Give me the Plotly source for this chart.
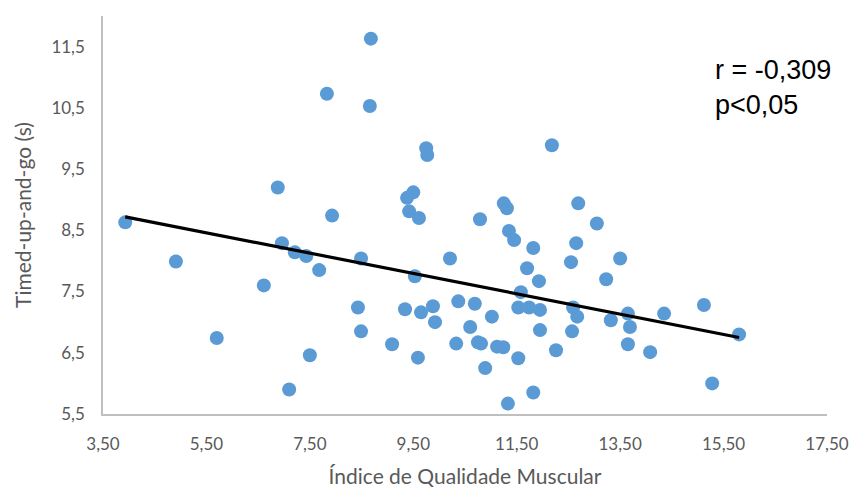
import plotly.graph_objects as go

# Índice de Qualidade Muscular (x) and Timed-up-and-go (s) (y)
iqm = [3.93, 4.91, 5.70, 6.61, 6.88, 6.96, 7.10, 7.21, 7.43, 7.50, 7.68, 7.83, 7.93,
       8.43, 8.49, 8.49, 8.66, 8.68, 9.09, 9.34, 9.38, 9.42, 9.50, 9.53, 9.59, 9.61,
       9.65, 9.75, 9.77, 9.88, 9.92, 10.21, 10.33, 10.37, 10.60, 10.69, 10.75, 10.79,
       10.81, 10.89, 11.02, 11.12, 11.24, 11.25, 11.31, 11.33, 11.35, 11.45, 11.53,
       11.53, 11.58, 11.70, 11.74, 11.82, 11.82, 11.93, 11.95, 11.95, 12.18, 12.26,
       12.55, 12.57, 12.59, 12.65, 12.67, 12.69, 13.05, 13.23, 13.32, 13.50, 13.65,
       13.65, 13.69, 14.08, 14.35, 15.12, 15.28, 15.80]
tug = [8.63, 7.99, 6.74, 7.60, 9.20, 8.29, 5.90, 8.14, 8.08, 6.46, 7.85, 10.73, 8.74,
       7.24, 8.04, 6.85, 10.53, 11.63, 6.64, 7.21, 9.03, 8.81, 9.12, 7.75, 6.42, 8.70,
       7.16, 9.84, 9.73, 7.26, 7.00, 8.04, 6.65, 7.34, 6.92, 7.30, 6.67, 8.68,
       6.65, 6.25, 7.09, 6.60, 6.59, 8.94, 8.86, 5.67, 8.49, 8.34, 6.41,
       7.24, 7.49, 7.88, 7.24, 5.85, 8.21, 7.67, 6.87, 7.20, 9.89, 6.54,
       7.98, 6.85, 7.24, 8.29, 7.09, 8.94, 8.61, 7.70, 7.03, 8.04, 7.14,
       6.64, 6.92, 6.51, 7.14, 7.28, 6.00, 6.80]

# Linear trendline endpoints as shown in the chart
trend_x = [3.93, 15.80]
trend_y = [8.72, 6.75]

x_ticks = [3.5, 5.5, 7.5, 9.5, 11.5, 13.5, 15.5, 17.5]
x_ticktext = ["3,50", "5,50", "7,50", "9,50", "11,50", "13,50", "15,50", "17,50"]
y_ticks = [5.5, 6.5, 7.5, 8.5, 9.5, 10.5, 11.5]
y_ticktext = ["5,5", "6,5", "7,5", "8,5", "9,5", "10,5", "11,5"]

fig = go.Figure()
fig.add_trace(go.Scatter(x=iqm, y=tug, mode="markers",
                         marker=dict(color="#5B9BD5", size=14, line=dict(width=0)),
                         showlegend=False, hoverinfo="x+y"))
fig.add_trace(go.Scatter(x=trend_x, y=trend_y, mode="lines",
                         line=dict(color="#000000", width=3.2), showlegend=False))

tickfont = dict(family="Lato", size=17, color="#595959")
titlefont = dict(family="Lato", size=21, color="#595959")
fig.update_layout(
    width=857, height=491,
    margin=dict(l=103, r=30, t=16, b=77, autoexpand=False),
    paper_bgcolor="white", plot_bgcolor="white",
    xaxis=dict(range=[3.5, 17.5], tickvals=x_ticks, ticktext=x_ticktext,
               showgrid=False, zeroline=False, showline=True, linecolor="#BFBFBF",
               linewidth=1.5, ticks="", tickfont=tickfont, ticklabelstandoff=14,
               automargin=False,
               title=dict(text="Índice de Qualidade Muscular", font=titlefont,
                          standoff=16)),
    yaxis=dict(range=[5.5, 12.0], tickvals=y_ticks, ticktext=y_ticktext,
               showgrid=False, zeroline=False, showline=True, linecolor="#BFBFBF",
               linewidth=1.5, ticks="", tickfont=tickfont, ticklabelstandoff=13,
               automargin=False,
               title=dict(text="Timed-up-and-go (s)", font=titlefont,
                          standoff=14)),
    annotations=[dict(text="r = -0,309<br>p<0,05", xref="paper", yref="paper",
                      x=(713 - 103) / 724, y=0.907,
                      xanchor="left", yanchor="top", showarrow=False, align="left",
                      font=dict(family="Liberation Sans", size=27, color="#000000"))],
)
fig.write_html("out.html")
